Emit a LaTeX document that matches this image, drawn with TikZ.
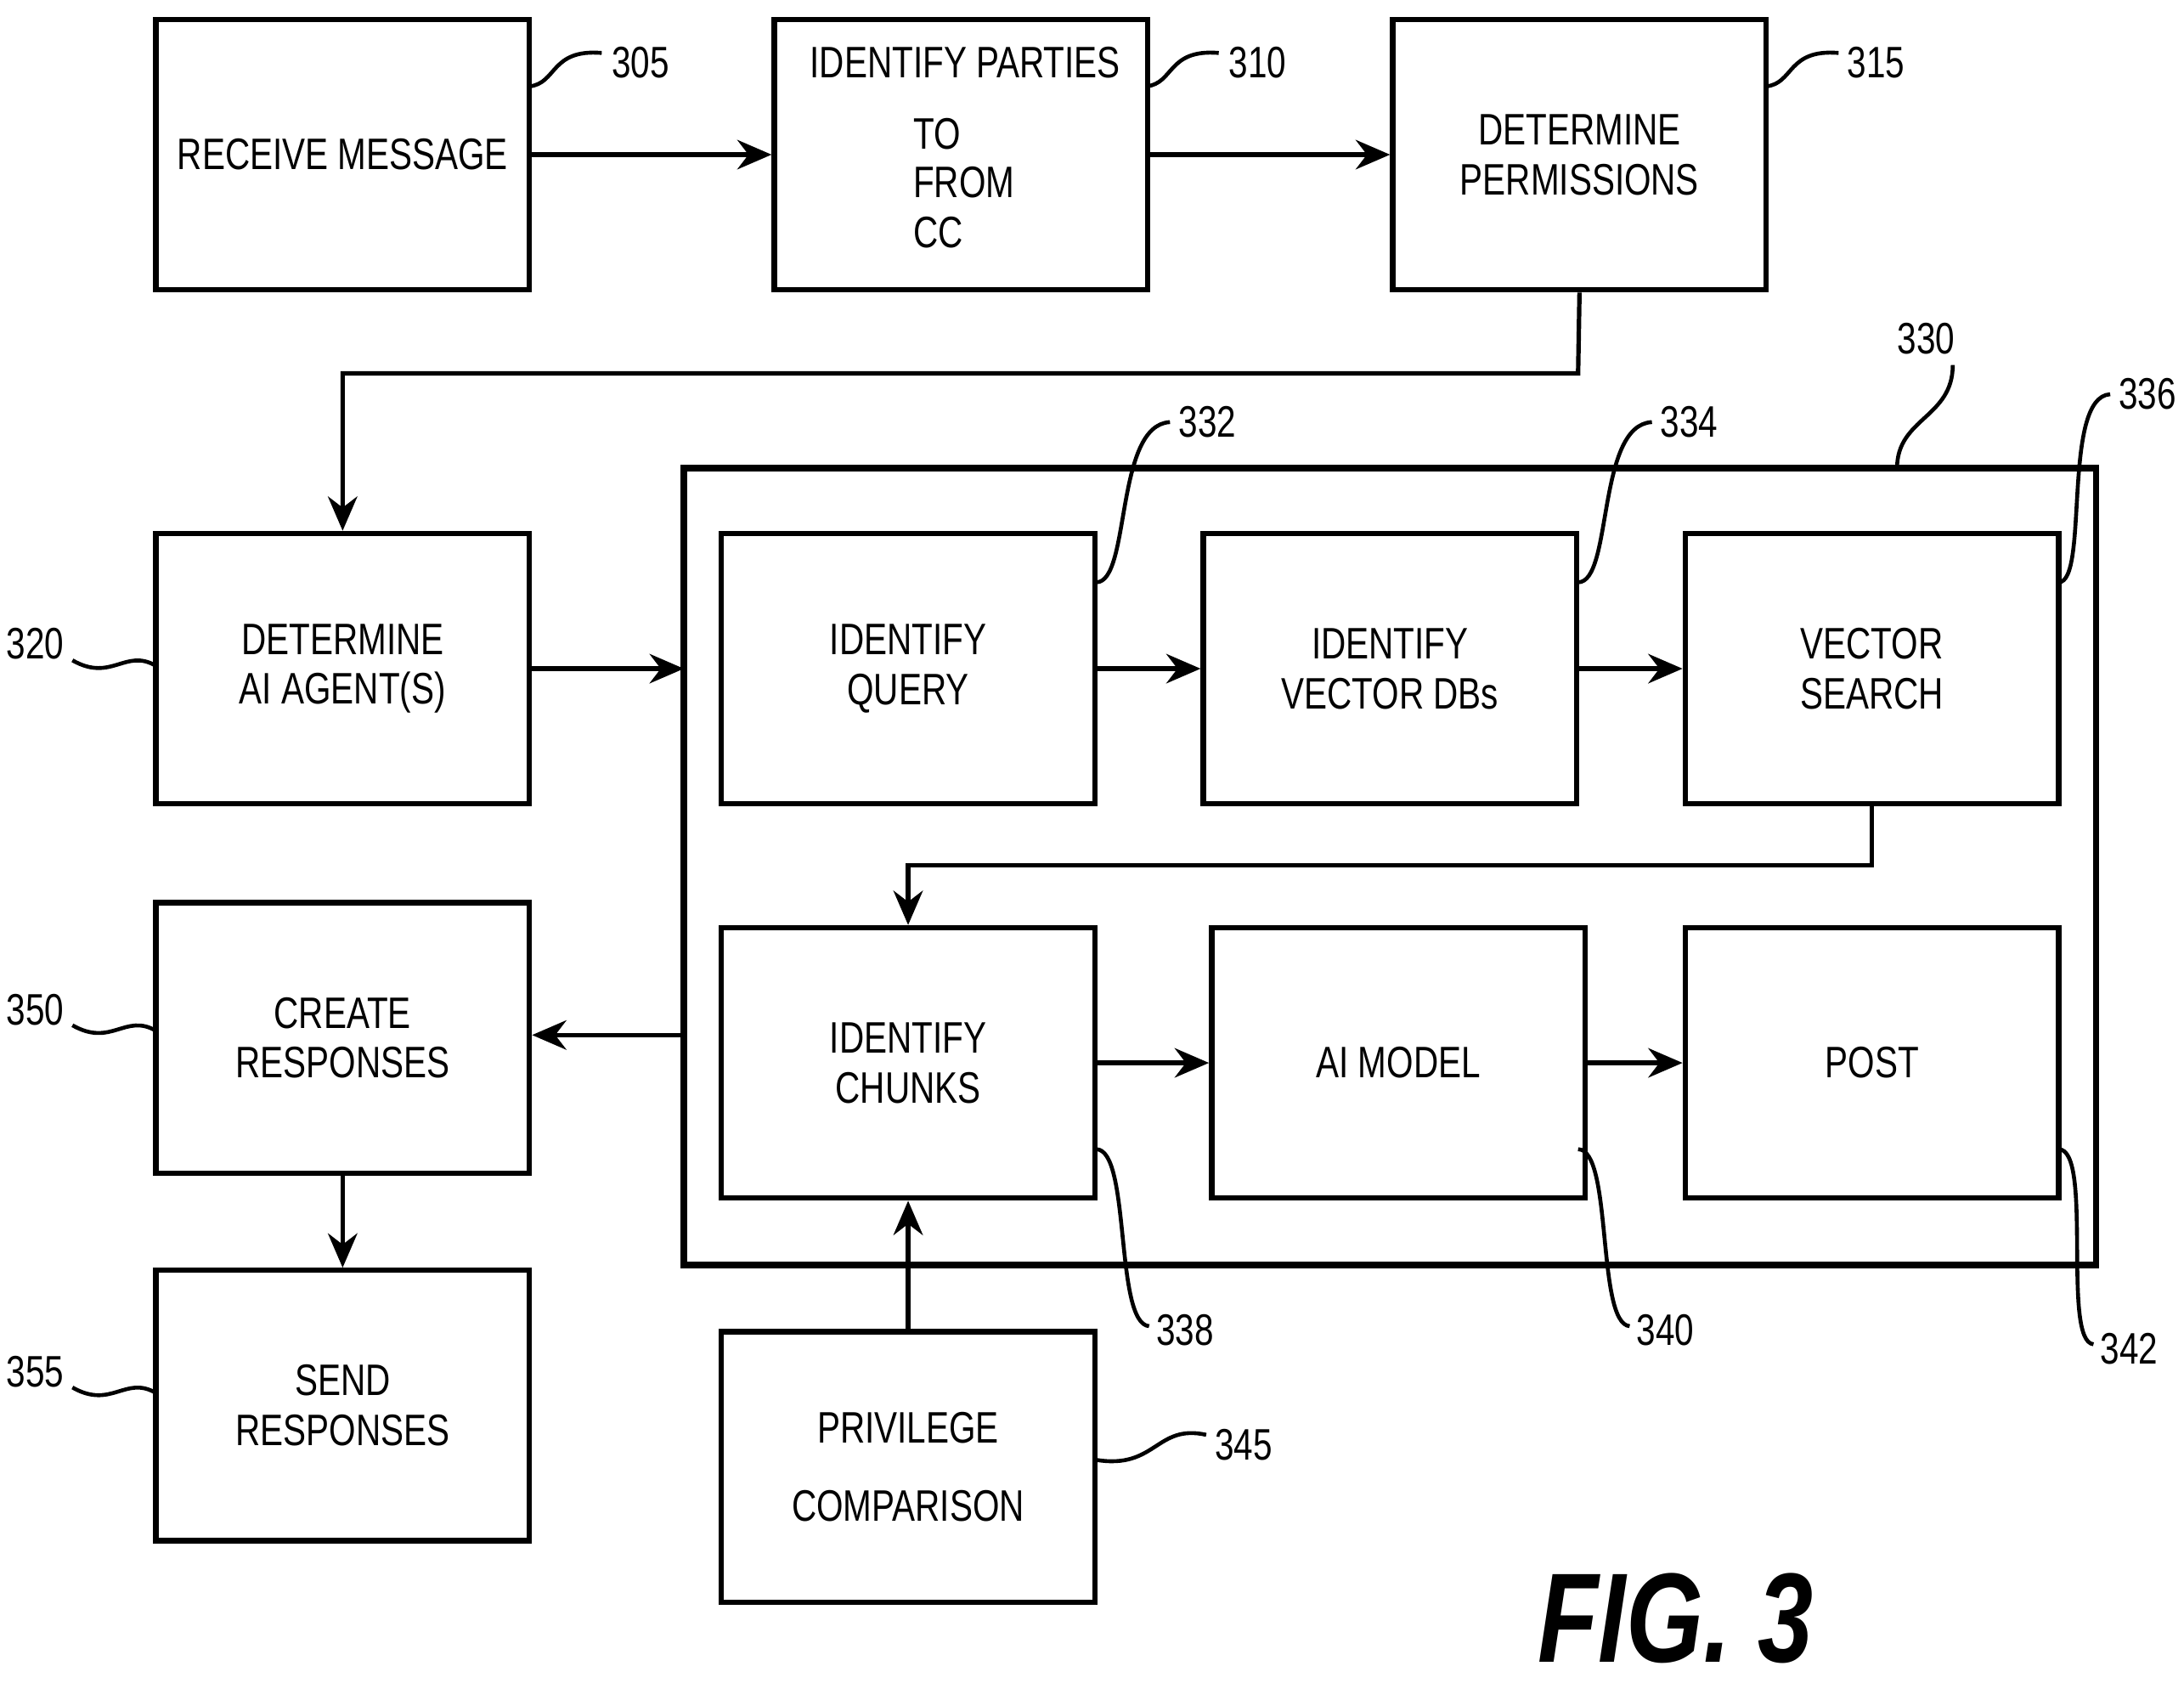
\documentclass[tikz,border=0pt]{standalone}
\usepackage{fontspec}
\setmainfont{Liberation Sans}[FakeStretch=0.78]
\usetikzlibrary{arrows.meta}
\begin{document}
\begin{tikzpicture}[x=0.01cm,y=-0.01cm,
  box/.style={draw,line width=1.1pt,minimum width=2.68cm,minimum height=1.94cm,align=center,inner sep=0pt,font=\fontsize{9}{10.2}\selectfont},
  arr/.style={-{Stealth[length=7pt,width=6pt]},line width=0.9pt},
  lead/.style={line width=0.8pt},
  lab/.style={font=\fontsize{9}{11}\selectfont,inner sep=1pt}]
\useasboundingbox (0,0) rectangle (1568,1208);
\node[box] (b305) at (246,111) {RECEIVE MESSAGE};
\node[box] (b310) at (690,111) {};
\node[font=\fontsize{9}{11}\selectfont] at (693,45) {IDENTIFY PARTIES};
\node[font=\fontsize{9}{11}\selectfont,anchor=west,inner sep=0pt] at (655,96) {TO};
\node[font=\fontsize{9}{11}\selectfont,anchor=west,inner sep=0pt] at (655,131) {FROM};
\node[font=\fontsize{9}{11}\selectfont,anchor=west,inner sep=0pt] at (655,167) {CC};
\node[box] (b315) at (1134,111) {DETERMINE\\PERMISSIONS};
\node[box] (b320) at (246,480) {DETERMINE\\AI AGENT(S)};
\node[box] (b350) at (246,745) {CREATE\\RESPONSES};
\node[box] (b355) at (246,1009) {SEND\\RESPONSES};
\draw[line width=1.3pt] (491,336) rectangle (1505,908);
\coordinate (cL1) at (491,480);
\coordinate (cL2) at (491,743);
\node[box] (b332) at (652,480) {IDENTIFY\\QUERY};
\node[box] (b334) at (998,480) {IDENTIFY\\VECTOR DBs};
\node[box] (b336) at (1344,480) {VECTOR\\SEARCH};
\node[box] (b338) at (652,763) {IDENTIFY\\CHUNKS};
\node[box] (b340) at (1004,763) {AI MODEL};
\node[box] (b342) at (1344,763) {POST};
\node[box] (b345) at (652,1053) {PRIVILEGE\\[2mm]COMPARISON};
\node[font=\bfseries\itshape\fontsize{26}{26}\selectfont] at (1203,1162) {FIG. 3};
% arrows
\draw[arr] (b305.east) -- (b310.west);
\draw[arr] (b310.east) -- (b315.west);
\draw[arr] (b315.south) -- (1133,268) -- (246,268) -- (b320.north);
\draw[arr] (b320.east) -- (cL1);
\draw[arr] (b332) -- (b334);
\draw[arr] (b334) -- (b336);
\draw[arr] (b336.south) -- (1344,621) -- (652,621) -- (b338.north);
\draw[arr] (b338) -- (b340);
\draw[arr] (b340) -- (b342);
\draw[arr] (cL2) -- (b350.east |- cL2);
\draw[arr] (b350) -- (b355);
\draw[arr] (b345) -- (b338);
% leaders
\draw[lead] (380,62) .. controls (400,60) and (395,35) .. (432,38);
\node[lab,anchor=west] at (435,45) {305};
\draw[lead] (823,62) .. controls (843,60) and (838,35) .. (875,38);
\node[lab,anchor=west] at (878,45) {310};
\draw[lead] (1268,62) .. controls (1288,60) and (1283,35) .. (1320,38);
\node[lab,anchor=west] at (1322,45) {315};
\draw[lead] (112,478) .. controls (90,465) and (80,490) .. (52,474);
\node[lab,anchor=east] at (50,462) {320};
\draw[lead] (112,740) .. controls (90,727) and (80,752) .. (52,736);
\node[lab,anchor=east] at (50,725) {350};
\draw[lead] (112,1000) .. controls (90,987) and (80,1012) .. (52,996);
\node[lab,anchor=east] at (50,985) {355};
\draw[lead] (1362,336) .. controls (1362,300) and (1402,300) .. (1402,262);
\node[lab] at (1383,243) {330};
\draw[lead] (787,418) .. controls (812,418) and (800,305) .. (840,303);
\node[lab,anchor=west] at (842,303) {332};
\draw[lead] (1133,418) .. controls (1158,418) and (1146,305) .. (1186,303);
\node[lab,anchor=west] at (1188,303) {334};
\draw[lead] (1478,418) .. controls (1500,418) and (1480,285) .. (1515,283);
\node[lab,anchor=west] at (1517,283) {336};
\draw[lead] (787,825) .. controls (812,825) and (800,950) .. (825,952);
\node[lab,anchor=west] at (826,955) {338};
\draw[lead] (1133,825) .. controls (1158,825) and (1146,950) .. (1170,952);
\node[lab,anchor=west] at (1171,955) {340};
\draw[lead] (1478,825) .. controls (1503,825) and (1480,963) .. (1503,965);
\node[lab,anchor=west] at (1504,968) {342};
\draw[lead] (787,1048) .. controls (830,1055) and (830,1022) .. (866,1030);
\node[lab,anchor=west] at (868,1037) {345};
\end{tikzpicture}
\end{document}
